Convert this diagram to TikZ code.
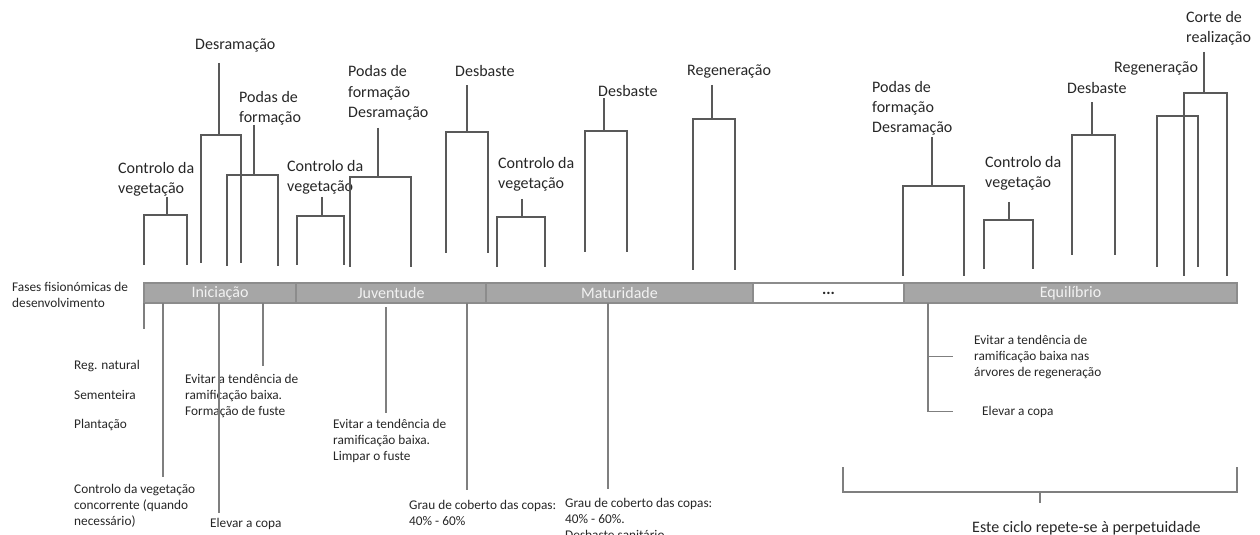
\documentclass[tikz,border=0pt]{standalone}
\usepackage{fontspec}
\setmainfont{Carlito}
\usetikzlibrary{positioning,calc}
\definecolor{txtgray}{HTML}{262626}
\definecolor{brkgray}{HTML}{595959}
\definecolor{notegray}{HTML}{7F7F7F}
\definecolor{barfill}{HTML}{A6A6A6}
\definecolor{bardraw}{HTML}{8C8C8C}
\tikzset{
  op/.style={anchor=base west, align=left, inner sep=0pt, text=txtgray,
    font=\fontsize{16}{20}\selectfont},
  note/.style={op, font=\fontsize{13.3}{16}\selectfont},
  bline/.style={draw=brkgray, line width=1.1pt},
  nline/.style={draw=notegray, line width=1.1pt},
  phase/.style={draw=bardraw, fill=barfill, text=white!95!black, line width=1.1pt,
    minimum height=20pt, inner sep=0pt, outer sep=0pt, anchor=west,
    font=\fontsize{16}{19}\selectfont}
}

\begin{document}
\begin{tikzpicture}[x=1pt, y=-1pt]
\useasboundingbox (0,0) rectangle (1260,535);

% fases (base = last line)
\node[note] (fases) at (12,307) {Fases fisionómicas de\\desenvolvimento};
\node[phase, minimum width=152pt] (ini) at (144,293) {Iniciação};
\node[phase, minimum width=190pt, right=0pt of ini] (juv) {Juventude};
\node[phase, minimum width=267pt, right=0pt of juv] (mat) {Maturidade};
\node[phase, minimum width=151pt, fill=white, text=txtgray, right=0pt of mat] (dots) {\textbf{...}};
\node[phase, minimum width=333pt, right=0pt of dots] (equ) {Equilíbrio};

% operacoes por cima
\node[op] (ctrl1) at (118,193) {Controlo da\\vegetação};
\node[op] (desr1) at (195,49) {Desramação};
\node[op] (podas1) at (239,122) {Podas de\\formação};
\node[op] (ctrl2) at (287,191) {Controlo da\\vegetação};
\node[op] (podesr1) at (348,117) {Podas de\\formação\\Desramação};
\node[op] (desb1) at (455,76) {Desbaste};
\node[op] (ctrl3) at (498,188) {Controlo da\\vegetação};
\node[op] (desb2) at (598,96) {Desbaste};
\node[op] (regen1) at (687,75) {Regeneração};
\node[op] (podesr2) at (872,132) {Podas de\\formação\\Desramação};
\node[op] (ctrl4) at (985,187) {Controlo da\\vegetação};
\node[op] (desb3) at (1067,93) {Desbaste};
\node[op] (regen2) at (1114,73) {Regeneração};
\node[op] (corte) at (1186,43) {Corte de\\realização};

\coordinate (c1) at (167,215);
\coordinate (c2) at (219,135);
\coordinate (c3) at (254,175);
\coordinate (c4) at (322,216);
\coordinate (c5) at (378,177);
\coordinate (c6) at (467,132);
\coordinate (c7) at (522,217);
\coordinate (c8) at (604,131);
\coordinate (c9) at (712,119);
\coordinate (c10) at (932,186);
\coordinate (c11) at (1009,220);
\coordinate (c12) at (1092,135);
\coordinate (c13) at (1177,116);
\coordinate (c14) at (1204,93);

\draw[bline] ([yshift=-1pt]ctrl1.south -| c1) -- (c1) -| ++(-23,50) (c1) -| ++(20,50);
\draw[bline] ([yshift=-11pt]desr1.south -| c2) -- (c2) -| ++(-18,128) (c2) -| ++(22,128);
\draw[bline] (podas1.south -| c3) -- (c3) -| ++(-27,91) (c3) -| ++(24,91);
\draw[bline] ([yshift=-3pt]ctrl2.south -| c4) -- (c4) -| ++(-25,49) (c4) -| ++(22,49);
\draw[bline] ([yshift=-8pt]podesr1.south -| c5) -- (c5) -| ++(-28,90) (c5) -| ++(33,90);
\draw[bline] ([yshift=-9pt]desb1.south -| c6) -- (c6) -| ++(-21,121) (c6) -| ++(21,121);
\draw[bline] ([yshift=-8pt]ctrl3.south -| c7) -- (c7) -| ++(-25,50) (c7) -| ++(23,50);
\draw[bline] ([yshift=-2pt]desb2.south -| c8) -- (c8) -| ++(-19,121) (c8) -| ++(23,121);
\draw[bline] ([yshift=-7pt]regen1.south -| c9) -- (c9) -| ++(-19,151) (c9) -| ++(23,151);
\draw[bline] ([yshift=-2pt]podesr2.south -| c10) -- (c10) -| ++(-29,90) (c10) -| ++(32,90);
\draw[bline] ([yshift=-12pt]ctrl4.south -| c11) -- (c11) -| ++(-25,49) (c11) -| ++(24,49);
\draw[bline] ([yshift=-9pt]desb3.south -| c12) -- (c12) -| ++(-20,120) (c12) -| ++(23,120);
\draw[bline] (c13) -| ++(-20,151) (c13) -| ++(21,151);
\draw[bline] ([yshift=-6pt]corte.south -| c14) -- (c14) -| ++(-20,183) (c14) -| ++(23,183);

% notas por baixo
\node[note] (reg) at (74,369) {Reg. natural};
\node[note] (sem) at (74,399) {Sementeira};
\node[note] (pla) at (74,428) {Plantação};
\node[note] (cvc) at (74,525) {Controlo da vegetação\\concorrente (quando\\necessário)};
\node[note] (elev1) at (210,527) {Elevar a copa};
\node[note] (evit1) at (185,415) {Evitar a tendência de\\ramificação baixa.\\Formação de fuste};
\node[note] (evit2) at (333,460) {Evitar a tendência de\\ramificação baixa.\\Limpar o fuste};
\node[note] (grau1) at (409,525) {Grau de coberto das copas:\\40\% - 60\%};
\node[note] (grau2) at (565,539) {Grau de coberto das copas:\\40\% - 60\%.\\Desbaste sanitário};
\node[note] (evit3) at (974,376) {Evitar a tendência de\\ramificação baixa nas\\árvores de regeneração};
\node[note] (elev2) at (982,415) {Elevar a copa};

\coordinate (t1) at (163,303);
\coordinate (t2) at (219,303);
\coordinate (t3) at (263,303);
\coordinate (t4) at (386,307);
\coordinate (t5) at (467,303);
\coordinate (t6) at (608,303);
\coordinate (t7) at (928,303);

\draw[nline] (ini.south west) -- ++(0,26);
\draw[nline] (t1) -- ([yshift=7pt]cvc.north -| t1);
\draw[nline] (t2) -- ([yshift=5pt]elev1.north -| t2);
\draw[nline] (t3) -- ([yshift=8pt]evit1.north -| t3);
\draw[nline] (t4) -- ([yshift=6pt]evit2.north -| t4);
\draw[nline] (t5) -- ([yshift=10pt]grau1.north -| t5);
\draw[nline] (t6) -- ([yshift=9pt]grau2.north -| t6);
\draw[nline] (t7) |- ([xshift=-21pt]evit3.west);
\draw[nline] (t7) |- ([xshift=-29pt]elev2.west);

% ciclo
\node[op] (ciclo) at (972,532) {Este ciclo repete-se à perpetuidade};
\coordinate (cycl) at (843,467);
\coordinate (cycr) at (1237,467);
\draw[nline] (cycl) -- ++(0,25) -| (cycr);
\draw[nline] ($(cycl)!0.5!(cycr)+(0,25)$) -- ++(0,11);
\end{tikzpicture}
\end{document}
